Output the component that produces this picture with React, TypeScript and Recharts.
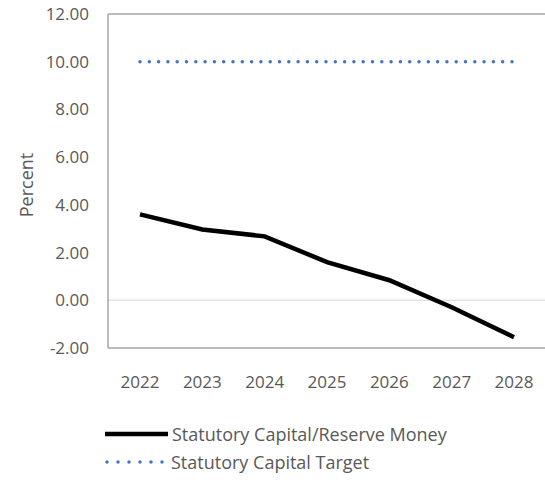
import { LineChart, Line, XAxis, YAxis, ReferenceLine, Legend } from "recharts";

// Statutory capital vs. target, percent of reserve money
const years = ["2022", "2023", "2024", "2025", "2026", "2027", "2028"];
const capitalRatio = [3.6, 2.97, 2.68, 1.6, 0.84, -0.29, -1.55];
const capitalTarget = [10, 10, 10, 10, 10, 10, 10];
const yTicks = [-2, 0, 2, 4, 6, 8, 10, 12];

const seriesNames = ["Statutory Capital/Reserve Money", "Statutory Capital Target"];

const data = years.map((year, i) => ({
  year,
  ratio: capitalRatio[i],
  target: capitalTarget[i],
}));

const FONT = "'Open Sans', 'Liberation Sans', sans-serif";
const TEXT = "#595959";
const FRAME = "#a6a6a6";

function LegendBox() {
  return (
    <div style={{ fontFamily: FONT, fontSize: 18, color: TEXT, lineHeight: "28px" }}>
      <div style={{ display: "flex", alignItems: "center" }}>
        <svg width={68} height={10}>
          <line x1={1} y1={5} x2={64} y2={5} stroke="#000" strokeWidth={4.5} />
        </svg>
        <span>{seriesNames[0]}</span>
      </div>
      <div style={{ display: "flex", alignItems: "center" }}>
        <svg width={67} height={10}>
          <line
            x1={3}
            y1={5}
            x2={60}
            y2={5}
            stroke="#4472c4"
            strokeWidth={3.5}
            strokeDasharray="0 11"
            strokeLinecap="round"
          />
        </svg>
        <span>{seriesNames[1]}</span>
      </div>
    </div>
  );
}

export default function App() {
  return (
    <div style={{ position: "fixed", left: 0, top: 0, width: 545, height: 494, overflow: "hidden", background: "#fff" }}>
      <LineChart width={545} height={494} data={data} margin={{ top: 14, right: 0, bottom: 86, left: 0 }}>
        <ReferenceLine y={12} stroke={FRAME} strokeWidth={1.5} />
        <ReferenceLine y={0} stroke="#e3e3e3" strokeWidth={1.5} />
        <XAxis
          dataKey="year"
          height={60}
          padding={{ left: 32, right: 31 }}
          tickLine={false}
          axisLine={{ stroke: FRAME, strokeWidth: 1.5 }}
          tick={{ fill: TEXT, fontSize: 17, fontFamily: FONT }}
          tickMargin={22}
          interval={0}
        />
        <YAxis
          width={108}
          domain={[-2, 12]}
          ticks={yTicks}
          tickFormatter={(v: number) => v.toFixed(2)}
          tickLine={false}
          axisLine={{ stroke: FRAME, strokeWidth: 1.5 }}
          tick={{ fill: TEXT, fontSize: 17, fontFamily: FONT }}
          tickMargin={13}
          label={{
            value: "Percent",
            angle: -90,
            position: "center",
            dx: -27,
            dy: 4,
            fill: TEXT,
            fontSize: 18,
            fontFamily: FONT,
          }}
        />
        <Legend
          layout="vertical"
          align="center"
          verticalAlign="middle"
          wrapperStyle={{ left: 104, top: 420, width: 420, height: 60 }}
          content={() => <LegendBox />}
        />
        <Line
          dataKey="target"
          name={seriesNames[1]}
          stroke="#4472c4"
          strokeWidth={3.5}
          strokeDasharray="0 9.3"
          strokeLinecap="round"
          dot={false}
          isAnimationActive={false}
        />
        <Line
          dataKey="ratio"
          name={seriesNames[0]}
          stroke="#000"
          strokeWidth={4.5}
          dot={false}
          isAnimationActive={false}
        />
      </LineChart>
    </div>
  );
}
